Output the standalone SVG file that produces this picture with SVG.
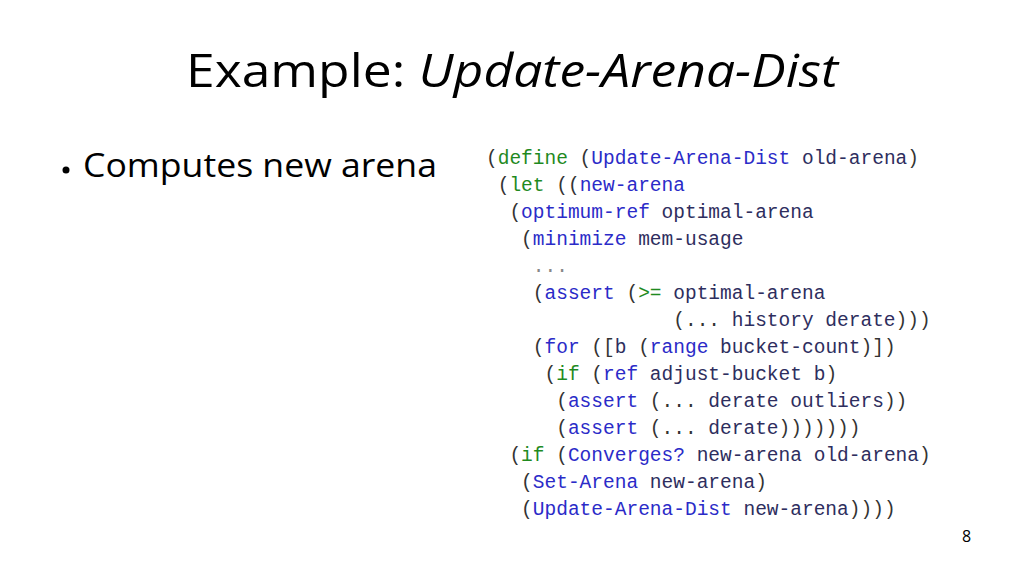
<svg xmlns="http://www.w3.org/2000/svg" width="1024" height="576" viewBox="0 0 1024 576">
<style>
.t{font-family:"Open Sans","Liberation Sans",sans-serif;fill:#000}
.c{font-family:"Liberation Mono","DejaVu Sans Mono",monospace;font-size:19.5px;fill:#333;white-space:pre}
.k{fill:#1f8a1f}.b{fill:#2b2bc8}.i{fill:#2e2e5e}.g{fill:#888}
</style>
<rect width="1024" height="576" fill="#fff"/>
<text class="t" x="186" y="87" font-size="46" textLength="652" lengthAdjust="spacingAndGlyphs">Example: <tspan font-style="italic">Update-Arena-Dist</tspan></text>
<circle cx="66" cy="170" r="3.5" fill="#000"/>
<text class="t" x="83" y="177" font-size="33" textLength="354" lengthAdjust="spacingAndGlyphs">Computes new arena</text>
<g id="code" xml:space="preserve">
<text class="c" x="486" y="164">(<tspan class="k">define</tspan> (<tspan class="b">Update-Arena-Dist</tspan> <tspan class="i">old-arena</tspan>)</text>
<text class="c" x="486" y="191"> (<tspan class="k">let</tspan> ((<tspan class="b">new-arena</tspan></text>
<text class="c" x="486" y="218">  (<tspan class="b">optimum-ref</tspan> <tspan class="i">optimal-arena</tspan></text>
<text class="c" x="486" y="245">   (<tspan class="b">minimize</tspan> <tspan class="i">mem-usage</tspan></text>
<text class="c" x="486" y="272">    <tspan class="g">...</tspan></text>
<text class="c" x="486" y="299">    (<tspan class="b">assert</tspan> (<tspan class="k">&gt;=</tspan> <tspan class="i">optimal-arena</tspan></text>
<text class="c" x="486" y="326">                (... <tspan class="i">history derate</tspan>)))</text>
<text class="c" x="486" y="353">    (<tspan class="b">for</tspan> ([<tspan class="i">b</tspan> (<tspan class="b">range</tspan> <tspan class="i">bucket-count</tspan>)])</text>
<text class="c" x="486" y="380">     (<tspan class="k">if</tspan> (<tspan class="b">ref</tspan> <tspan class="i">adjust-bucket b</tspan>)</text>
<text class="c" x="486" y="407">      (<tspan class="b">assert</tspan> (... <tspan class="i">derate outliers</tspan>))</text>
<text class="c" x="486" y="434">      (<tspan class="b">assert</tspan> (... <tspan class="i">derate</tspan>)))))))</text>
<text class="c" x="486" y="461">  (<tspan class="k">if</tspan> (<tspan class="b">Converges?</tspan> <tspan class="i">new-arena old-arena</tspan>)</text>
<text class="c" x="486" y="488">   (<tspan class="b">Set-Arena</tspan> <tspan class="i">new-arena</tspan>)</text>
<text class="c" x="486" y="515">   (<tspan class="b">Update-Arena-Dist</tspan> <tspan class="i">new-arena</tspan>))))</text>
</g>
<text class="t" x="962" y="542" font-size="16">8</text>
</svg>
